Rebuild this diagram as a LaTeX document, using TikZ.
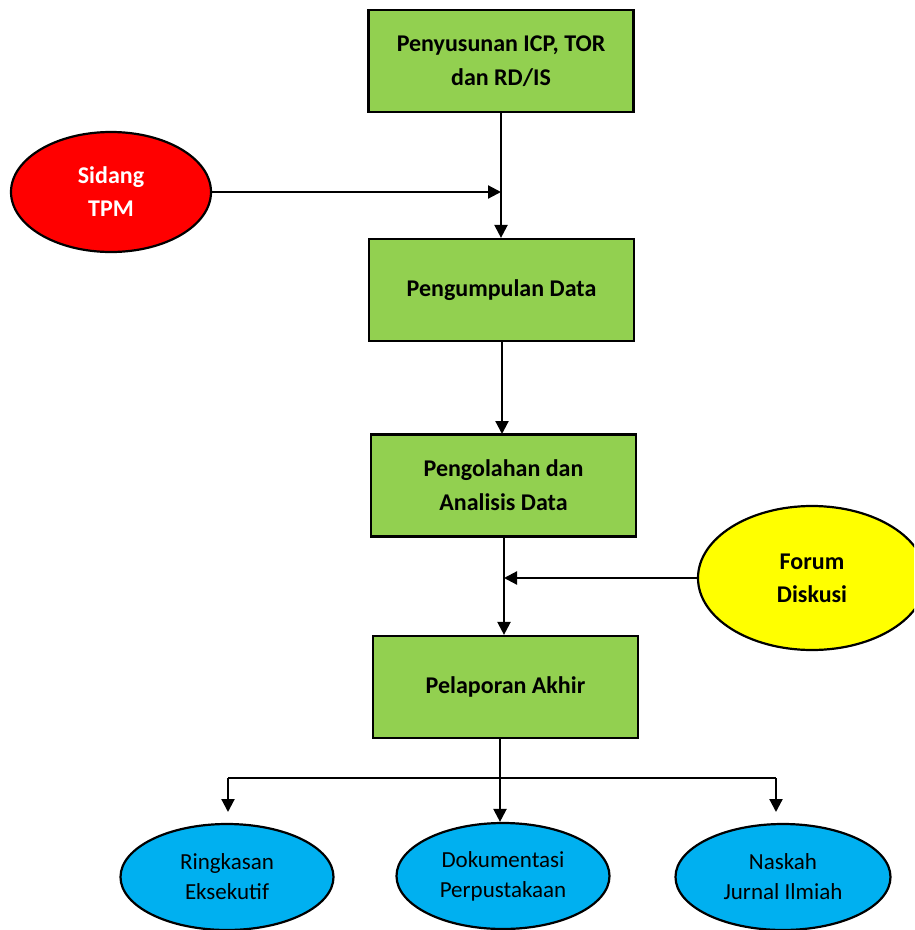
\documentclass[tikz,border=0pt]{standalone}
\usepackage{fontspec}
\setmainfont{Carlito}
\usetikzlibrary{shapes.geometric,arrows.meta}
\definecolor{stepgreen}{HTML}{92D050}
\definecolor{tpmred}{HTML}{FF0000}
\definecolor{forumyellow}{HTML}{FFFF00}
\definecolor{outblue}{HTML}{00B0F0}
\tikzset{
  stepbox/.style={draw=black, line width=2.2pt, fill=stepgreen, rectangle,
    minimum width=265pt, minimum height=102pt, inner sep=0pt, align=center,
    font=\fontsize{24}{34}\selectfont\bfseries},
  oval/.style={draw=black, line width=2.2pt, ellipse, inner sep=0pt, align=center},
  inputoval/.style={oval, font=\fontsize{24}{33}\selectfont\bfseries},
  outoval/.style={oval, fill=outblue, minimum width=213pt, minimum height=106pt,
    font=\fontsize{23}{30}\selectfont},
  flow/.style={line width=2.2pt, -{Triangle[length=13pt,width=13pt]}},
  link/.style={line width=2.2pt}
}
\begin{document}
\begin{tikzpicture}[x=1pt,y=-1pt]
\useasboundingbox (0,0) rectangle (914,930);
\clip (0,0) rectangle (914,930);

% process steps
\node[stepbox] (b1) at (501,61) {Penyusunan ICP, TOR\\dan RD/IS};
\node[stepbox] (b2) at (501.5,290) {Pengumpulan Data};
\node[stepbox] (b3) at (503.5,485.5) {Pengolahan dan\\Analisis Data};
\node[stepbox] (b4) at (505.5,687) {Pelaporan Akhir};

% inputs
\node[inputoval, fill=tpmred, text=white, minimum width=200pt, minimum height=120pt]
  (tpm) at (111,192) {Sidang\\TPM};
\node[inputoval, fill=forumyellow, minimum width=228pt, minimum height=144pt]
  (forum) at (812,578) {Forum\\Diskusi};

% outputs
\node[outoval] (o1) at (227,877) {Ringkasan\\Eksekutif};
\node[outoval] (o2) at (503,876) {Dokumentasi\\Perpustakaan};
\node[outoval, minimum width=215pt] (o3) at (783,877) {Naskah\\Jurnal Ilmiah};

% junction points
\coordinate (j1) at (501,192);
\coordinate (j2) at (504,578);
\coordinate (bl) at (228,778);
\coordinate (br) at (776,778);
\coordinate (bm) at (500,778);
\coordinate (el) at (228,812);
\coordinate (er) at (776,812);

% main flow
\draw[flow] (b1.south) -- (b1.south |- b2.north);
\draw[flow] (tpm.east) -- (j1);
\draw[flow] (502,342) -- (502,434);
\draw[flow] (b3.south -| j2) -- (j2 |- b4.north);
\draw[flow] (forum.west) -- (j2);

% distribution of the final report
\draw[flow] (bm |- b4.south) -- (bm |- o2.north);
\draw[link] (bl) -- (br);
\draw[flow] (bl) -- (el);
\draw[flow] (br) -- (er);
\end{tikzpicture}
\end{document}
